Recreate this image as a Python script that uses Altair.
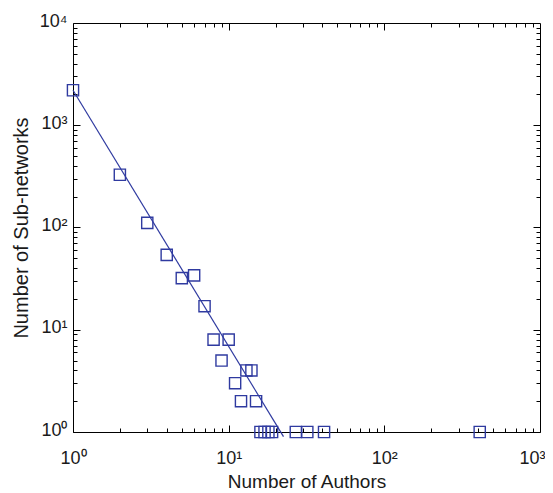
import altair as alt
import pandas as pd

# ---- data ----
authors = [1, 2, 3, 4, 5, 6, 7, 8, 9, 10, 11, 12, 13, 14, 15, 16, 17, 18, 19, 27, 32, 41, 410]
subnets = [2200, 328, 111, 54, 32, 34, 17, 8, 5, 8, 3, 2, 4, 4, 2, 1, 1, 1, 1, 1, 1, 1, 1]

fit_x = [1, 22.5]
fit_y = [2200, 0.9]

x_major = [1, 10, 100, 1000]
x_labels = ["10\u2070", "10\u00b9", "10\u00b2", "10\u00b3"]
y_major = [1, 10, 100, 1000, 10000]
y_labels = ["10\u2070", "10\u00b9", "10\u00b2", "10\u00b3", "10\u2074"]

x_minor = [2, 3, 4, 5, 6, 7, 8, 9,
           20, 30, 40, 50, 60, 70, 80, 90,
           200, 300, 400, 500, 600, 700, 800, 900]
y_minor = [2, 3, 4, 5, 6, 7, 8, 9,
           20, 30, 40, 50, 60, 70, 80, 90,
           200, 300, 400, 500, 600, 700, 800, 900,
           2000, 3000, 4000, 5000, 6000, 7000, 8000, 9000]

pts = pd.DataFrame({"x": authors, "y": subnets})
fit = pd.DataFrame({"x": fit_x, "y": fit_y})

W, H = 467, 409
FONT = "Liberation Sans"
BLUE = "#2f3aa0"
TXT = "#1a1a1a"


def label_expr(vals, labels):
    expr = "''"
    for v, l in reversed(list(zip(vals, labels))):
        expr = f"(abs(datum.value - {v}) < {v}*0.001) ? '{l}' : " + expr
    return expr


xs = alt.Scale(type="log", domain=[1, 1000], nice=False)
ys = alt.Scale(type="log", domain=[1, 10000], nice=False)

x_lab = alt.Axis(orient="bottom", values=x_major, labelExpr=label_expr(x_major, x_labels),
                 ticks=False, tickSize=0, domain=False, grid=False,
                 labelFont=FONT, labelFontSize=18, labelColor=TXT,
                 labelBaseline="alphabetic", labelPadding=31,
                 labelAlign={"condition": {"test": "datum.value > 500", "value": "right"},
                             "value": "center"},
                 labelOffset={"condition": {"test": "datum.value > 500", "value": 5},
                              "value": 0},
                 title="Number of Authors", titleFont=FONT, titleFontSize=19,
                 titleFontWeight="normal", titleColor=TXT,
                 titleBaseline="alphabetic", titleY=55)
y_lab = alt.Axis(orient="left", values=y_major, labelExpr=label_expr(y_major, y_labels),
                 ticks=False, tickSize=0, domain=False, grid=False,
                 labelFont=FONT, labelFontSize=18, labelColor=TXT,
                 labelBaseline="middle", labelPadding=6, labelOffset=-2,
                 title="Number of Sub-networks", titleFont=FONT, titleFontSize=20,
                 titleFontWeight="normal", titleColor=TXT,
                 titleBaseline="alphabetic", titleX=-46)


def tick_axis(orient, offset, values, size):
    return alt.Axis(orient=orient, offset=offset, values=values, labels=False,
                    domain=False, grid=False, ticks=True, tickSize=size,
                    tickColor="#000", tickWidth=1, title=None)


# tick positions nudged imperceptibly so these axes stay distinct from the label axes
x_major_a = [v * 1.000001 for v in x_major]
y_major_a = [v * 1.000001 for v in y_major]
x_major_b = [v * 1.000002 for v in x_major]
y_major_b = [v * 1.000002 for v in y_major]

squares = alt.Chart(pts).mark_point(shape="square", size=125, filled=False,
                                    color=BLUE, strokeWidth=1.4, opacity=1).encode(
    x=alt.X("x:Q", scale=xs, axis=x_lab),
    y=alt.Y("y:Q", scale=ys, axis=y_lab),
)

line = alt.Chart(fit).mark_line(color=BLUE, strokeWidth=1.2).encode(
    x=alt.X("x:Q", scale=xs, axis=tick_axis("top", -H, x_minor, 4)),
    y=alt.Y("y:Q", scale=ys, axis=tick_axis("right", -W, y_minor, 4)),
)


def ghost(xa, ya):
    return alt.Chart(fit).mark_line(opacity=0).encode(
        x=alt.X("x:Q", scale=xs, axis=xa),
        y=alt.Y("y:Q", scale=ys, axis=ya),
    )


g1 = ghost(tick_axis("bottom", -H, x_major_b, 7), tick_axis("left", -W, y_major_b, 7))
g2 = ghost(tick_axis("top", -H, x_major_a, 7), tick_axis("right", -W, y_major_a, 7))
g3 = ghost(tick_axis("bottom", -H, x_minor, 4), tick_axis("left", -W, y_minor, 4))

chart = alt.layer(g1, g2, g3, line, squares).resolve_axis(
    x="independent", y="independent"
).properties(
    width=W, height=H,
    autosize=alt.AutoSizeParams(type="none"),
    padding={"left": 65, "top": 15, "right": 5, "bottom": 60},
    background="white",
).configure_view(stroke="#000", strokeWidth=1)

chart.save("out.html", embed_options={"renderer": "svg", "actions": False})
